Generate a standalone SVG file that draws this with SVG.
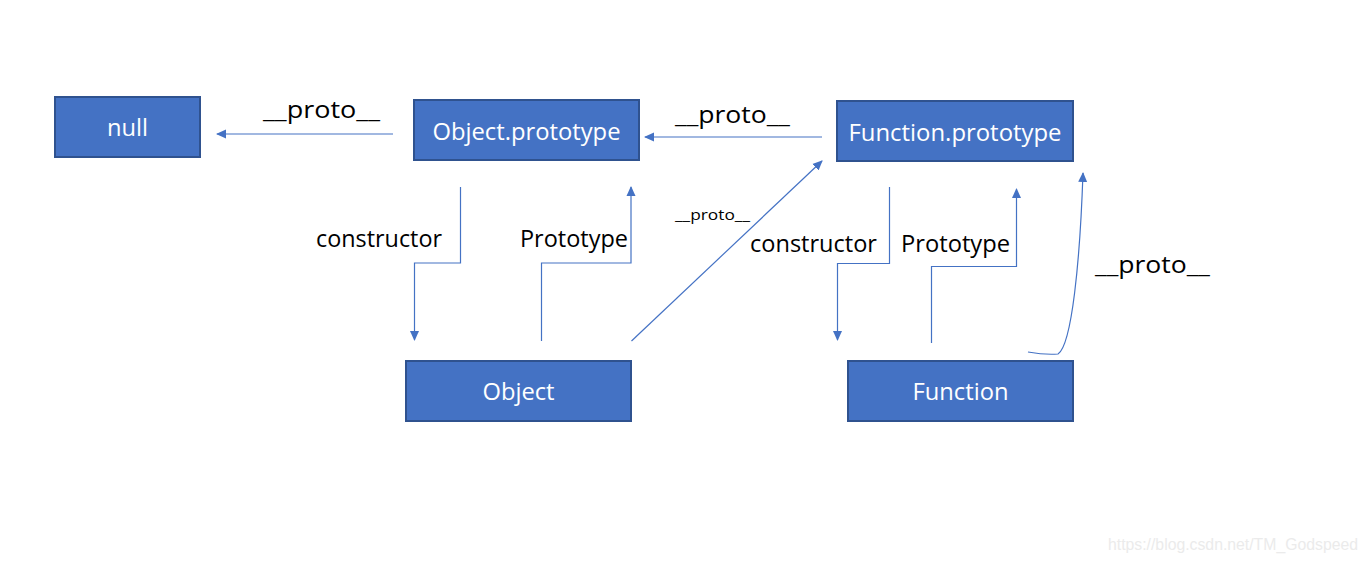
<svg xmlns="http://www.w3.org/2000/svg" width="1366" height="562" viewBox="0 0 1366 562">
<style>
.box{fill:#4472C4;stroke:#2F528F;stroke-width:2}
.bt{fill:#fff;font-family:"Open Sans","Noto Sans",sans-serif;font-size:23px;text-anchor:middle}
.lbl{fill:#000;font-family:"Open Sans","Noto Sans",sans-serif;font-size:23px}
.c{fill:none;stroke:#4472C4;stroke-width:1.2}
</style>
<defs>
<marker id="ah" markerWidth="10" markerHeight="10" refX="9" refY="5" orient="auto" markerUnits="userSpaceOnUse">
<path d="M0,0.5 L10,5 L0,9.5 Z" fill="#4472C4"/>
</marker>
</defs>
<rect width="1366" height="562" fill="#fff"/>
<g id="null"><rect class="box" x="55" y="97" width="145" height="60"/><text class="bt" x="127.5" y="136" textLength="41" lengthAdjust="spacingAndGlyphs">null</text></g>
<g id="objproto"><rect class="box" x="414" y="100" width="225" height="60"/><text class="bt" x="526.5" y="140" textLength="188" lengthAdjust="spacingAndGlyphs">Object.prototype</text></g>
<g id="funcproto"><rect class="box" x="837" y="101" width="236" height="60"/><text class="bt" x="955" y="141" textLength="213" lengthAdjust="spacingAndGlyphs">Function.prototype</text></g>
<g id="object"><rect class="box" x="406" y="361" width="225" height="60"/><text class="bt" x="518.5" y="400" textLength="72" lengthAdjust="spacingAndGlyphs">Object</text></g>
<g id="function"><rect class="box" x="848" y="361" width="225" height="60"/><text class="bt" x="960.5" y="400" textLength="96" lengthAdjust="spacingAndGlyphs">Function</text></g>
<g id="connectors">
<path class="c" d="M393,134 L217,134" marker-end="url(#ah)"/>
<path class="c" d="M822,137 L645,137" marker-end="url(#ah)"/>
<path class="c" d="M460.5,187 L460.5,263 L414.5,263 L414.5,340" marker-end="url(#ah)"/>
<path class="c" d="M541.5,341 L541.5,263 L631,263 L631,187" marker-end="url(#ah)"/>
<path class="c" d="M631.5,341 L822,161" marker-end="url(#ah)"/>
<path class="c" d="M889.5,187 L889.5,263.5 L837.5,263.5 L837.5,340" marker-end="url(#ah)"/>
<path class="c" d="M931.5,343 L931.5,266.5 L1016.5,266.5 L1016.5,189" marker-end="url(#ah)"/>
<path class="c" d="M1028,352 Q1045,355 1058,354 C1072,345 1080,260 1083,173" marker-end="url(#ah)"/>
</g>
<g id="labels">
<text class="lbl" x="263" y="118" textLength="117" lengthAdjust="spacingAndGlyphs">__proto__</text>
<text class="lbl" x="675" y="123" textLength="115" lengthAdjust="spacingAndGlyphs">__proto__</text>
<text class="lbl" x="316" y="247" textLength="126" lengthAdjust="spacingAndGlyphs">constructor</text>
<text class="lbl" x="520" y="247" textLength="108" lengthAdjust="spacingAndGlyphs">Prototype</text>
<text class="lbl" x="675" y="220" style="font-size:14px" textLength="75" lengthAdjust="spacingAndGlyphs">__proto__</text>
<text class="lbl" x="750" y="252" textLength="127" lengthAdjust="spacingAndGlyphs">constructor</text>
<text class="lbl" x="901" y="252" textLength="109" lengthAdjust="spacingAndGlyphs">Prototype</text>
<text class="lbl" x="1095" y="273" textLength="115" lengthAdjust="spacingAndGlyphs">__proto__</text>
</g>
<text x="1108" y="550" style="fill:#ebebeb;font-family:'Liberation Sans',Arial,sans-serif;font-size:16px" textLength="250" lengthAdjust="spacingAndGlyphs">https://blog.csdn.net/TM_Godspeed</text>
</svg>
